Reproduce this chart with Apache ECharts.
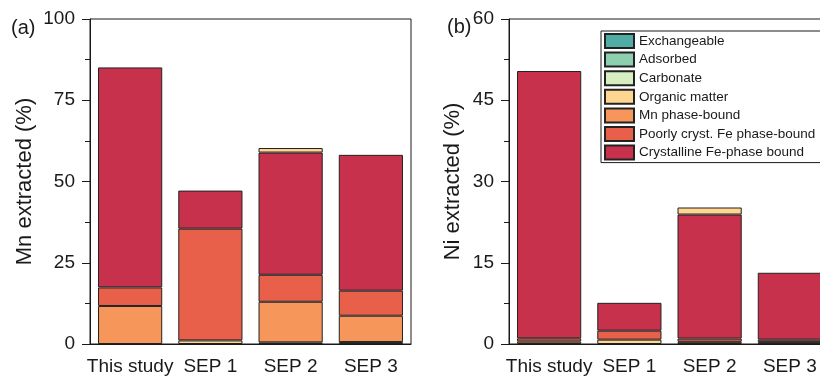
<!DOCTYPE html>
<html>
<head>
<meta charset="utf-8">
<script src="https://cdn.jsdelivr.net/npm/echarts@6/dist/echarts.min.js"></script>
<style>
  html, body { margin: 0; padding: 0; background: #fff; }
  #chart { width: 820px; height: 380px; }
</style>
</head>
<body>
<div id="chart"></div>
<script>
// Extraction steps (bottom to top of each stack)
const categories = ['This study', 'SEP 1', 'SEP 2', 'SEP 3'];
const fractions = ['Exchangeable', 'Adsorbed', 'Carbonate', 'Organic matter',
  'Mn phase-bound', 'Poorly cryst. Fe phase-bound', 'Crystalline Fe-phase bound'];
const fractionColors = ['#4FADA6', '#8DCFAF', '#D6EEC0', '#FED690', '#F7965A', '#E8604A', '#C8314B'];

// Mn extracted (%) per fraction
const mnExchangeable = [0, 0, 0, 0];
const mnAdsorbed     = [0, 0, 0, 0.6];
const mnCarbonate    = [0, 0, 0.5, 0];
const mnOrganic      = [0, 1.1, 0, 0];
const mnMnPhase      = [11.7, 0, 12.5, 8.1];
const mnPoorlyFe     = [5.7, 34.4, 8.3, 7.7];
const mnCrystFe      = [67.7, 11.7, 37.6, 41.8];
const mnOrganicLast  = [0, 0, 1.4, 0];   // SEP 2 runs the organic step after the Fe steps

// Ni extracted (%) per fraction
const niExchangeable = [0, 0, 0, 0];
const niAdsorbed     = [0, 0, 0, 0];
const niCarbonate    = [0, 0, 0, 0];
const niOrganic      = [0, 0.8, 0, 0];
const niMnPhase      = [0.45, 0, 0.4, 0.35];
const niPoorlyFe     = [0.6, 1.66, 0.6, 0.45];
const niCrystFe      = [49.35, 5.14, 22.9, 12.35];
const niOrganicLast  = [0, 0, 1.3, 0];

const mnTicks = [0, 25, 50, 75, 100];
const niTicks = [0, 15, 30, 45, 60];

const FONT = 'Arial, "Liberation Sans", sans-serif';
const INK = '#1a1a1a';

const mnStacks = [mnExchangeable, mnAdsorbed, mnCarbonate, mnOrganic, mnMnPhase, mnPoorlyFe, mnCrystFe];
const niStacks = [niExchangeable, niAdsorbed, niCarbonate, niOrganic, niMnPhase, niPoorlyFe, niCrystFe];

function clean(arr) { return arr.map(v => (v > 0 ? v : null)); }

function barSeries(name, color, vals, idx) {
  return {
    type: 'bar',
    name: name,
    stack: 'p' + idx,
    xAxisIndex: idx,
    yAxisIndex: idx,
    barCategoryGap: '20%',
    data: clean(vals),
    itemStyle: { color: color, borderColor: '#222', borderWidth: 1 },
    emphasis: { disabled: true }
  };
}

function panelSeries(stacks, lastOrganic, idx) {
  const out = stacks.map((vals, i) => barSeries(fractions[i], fractionColors[i], vals, idx));
  out.push(barSeries(fractions[3], fractionColors[3], lastOrganic, idx));
  return out;
}

function xAxisFor(idx) {
  return {
    type: 'category',
    gridIndex: idx,
    data: categories,
    axisLine: { lineStyle: { color: INK, width: 1 } },
    axisTick: { alignWithLabel: true, length: 8, lineStyle: { color: INK } },
    axisLabel: { fontSize: 19, color: INK, fontFamily: FONT, margin: 13, interval: 0 }
  };
}

function yAxisFor(idx, ticks, name, gap) {
  return {
    type: 'value',
    gridIndex: idx,
    min: ticks[0],
    max: ticks[ticks.length - 1],
    interval: ticks[1] - ticks[0],
    name: name,
    nameLocation: 'middle',
    nameGap: gap,
    nameTextStyle: { fontSize: 22, color: INK, fontFamily: FONT },
    splitLine: { show: false },
    axisLine: { show: true, lineStyle: { color: INK, width: 1 } },
    axisTick: { show: true, inside: false, length: 8, lineStyle: { color: INK } },
    minorTick: { show: true, splitNumber: 2, length: 5, lineStyle: { color: INK } },
    axisLabel: { fontSize: 19, color: INK, fontFamily: FONT, margin: 15 }
  };
}

const chart = echarts.init(document.getElementById('chart'), null, { renderer: 'canvas' });
chart.setOption({
  animation: false,
  backgroundColor: '#fff',
  grid: [
    { left: 90, top: 19, width: 321, height: 325, outerBoundsMode: 'none', containLabel: false,
      show: true, borderColor: INK, borderWidth: 1, backgroundColor: 'transparent' },
    { left: 509, top: 19, width: 321, height: 325, outerBoundsMode: 'none', containLabel: false,
      show: true, borderColor: INK, borderWidth: 1, backgroundColor: 'transparent' }
  ],
  xAxis: [xAxisFor(0), xAxisFor(1)],
  yAxis: [
    yAxisFor(0, mnTicks, 'Mn extracted (%)', 54),
    yAxisFor(1, niTicks, 'Ni extracted (%)', 45)
  ],
  legend: {
    data: fractions,
    orient: 'vertical',
    left: 601,
    top: 31,
    itemWidth: 29,
    itemHeight: 14,
    itemGap: 2.6,
    padding: [2, 6, 2, 3],
    borderColor: INK,
    borderWidth: 1,
    backgroundColor: '#fff',
    selectedMode: false,
    icon: 'rect',
    textStyle: { fontSize: 13.5, color: INK, fontFamily: FONT, lineHeight: 14 }
  },
  graphic: [
    { type: 'text', left: 11, top: 18, style: { text: '(a)', font: '20px ' + FONT, fill: INK } },
    { type: 'text', left: 447, top: 17, style: { text: '(b)', font: '20px ' + FONT, fill: INK } }
  ],
  series: panelSeries(mnStacks, mnOrganicLast, 0).concat(panelSeries(niStacks, niOrganicLast, 1))
});
</script>
</body>
</html>
